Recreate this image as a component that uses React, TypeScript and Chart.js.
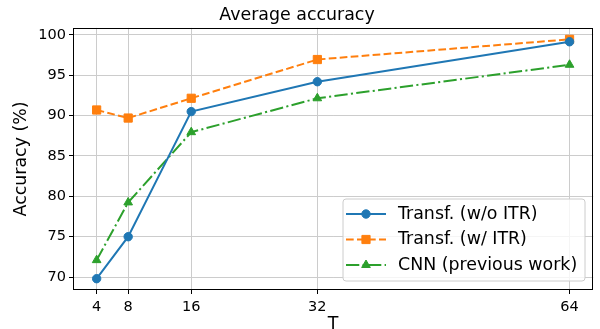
import React, { useEffect, useRef } from "react";
import { Chart, registerables } from "chart.js";

Chart.register(...registerables);

const xValues = [4, 8, 16, 32, 64];
const xTicks = [4, 8, 16, 32, 64];
const yTicks = [70, 75, 80, 85, 90, 95, 100];
const seriesNames = ["Transf. (w/o ITR)", "Transf. (w/ ITR)", "CNN (previous work)"];
const transfNoItr = [69.8, 75.0, 90.5, 94.2, 99.15];
const transfItr = [90.7, 89.7, 92.15, 96.95, 99.45];
const cnnPrev = [72.1, 79.25, 87.95, 92.15, 96.3];

const FONT = "'DejaVu Sans', sans-serif";
const BIG = 17.4;
const SMALL = 14.5;
const colors = ["#1f77b4", "#ff7f0e", "#2ca02c"];
const dashes = [[], [7.7, 3.3], [13.3, 3.3, 2.1, 3.3]];
const styles = ["circle", "rect", "triangle"];
const radii = [4.2, 5.8, 5];

const framePlugin = {
  id: "frame",
  afterDatasetsDraw(chart: any) {
    const { ctx, chartArea } = chart;
    ctx.save();
    ctx.strokeStyle = "#000";
    ctx.lineWidth = 1;
    ctx.strokeRect(
      Math.round(chartArea.left) + 0.5,
      Math.round(chartArea.top) + 0.5,
      Math.round(chartArea.right - chartArea.left) - 1,
      Math.round(chartArea.bottom - chartArea.top) - 1
    );
    ctx.restore();
  },
};

const legendPlugin = {
  id: "mplLegend",
  afterDraw(chart: any) {
    const { ctx } = chart;
    const x0 = 343, y0 = 199, x1 = 585, y1 = 281, r = 3;
    ctx.save();
    ctx.beginPath();
    ctx.moveTo(x0 + r, y0);
    ctx.lineTo(x1 - r, y0);
    ctx.arcTo(x1, y0, x1, y0 + r, r);
    ctx.lineTo(x1, y1 - r);
    ctx.arcTo(x1, y1, x1 - r, y1, r);
    ctx.lineTo(x0 + r, y1);
    ctx.arcTo(x0, y1, x0, y1 - r, r);
    ctx.lineTo(x0, y0 + r);
    ctx.arcTo(x0, y0, x0 + r, y0, r);
    ctx.closePath();
    ctx.fillStyle = "rgba(255,255,255,0.8)";
    ctx.fill();
    ctx.strokeStyle = "#cccccc";
    ctx.lineWidth = 1;
    ctx.stroke();
    const rows = [214, 239.5, 265];
    rows.forEach((y, i) => {
      ctx.save();
      ctx.strokeStyle = colors[i];
      ctx.lineWidth = 2;
      ctx.setLineDash(dashes[i]);
      ctx.beginPath();
      ctx.moveTo(346, y);
      ctx.lineTo(386, y);
      ctx.stroke();
      ctx.restore();
      ctx.save();
      ctx.fillStyle = colors[i];
      ctx.strokeStyle = colors[i];
      ctx.lineWidth = 1;
      const s = styles[i];
      const rad = radii[i];
      ctx.beginPath();
      if (s === "circle") {
        ctx.arc(366, y, rad, 0, Math.PI * 2);
      } else if (s === "rect") {
        const h = rad * Math.SQRT1_2;
        ctx.rect(366 - h, y - h, 2 * h, 2 * h);
      } else {
        for (let k = 0; k < 3; k++) {
          const a = -Math.PI / 2 + (k * 2 * Math.PI) / 3;
          const px = 366 + rad * Math.cos(a);
          const py = y + rad * Math.sin(a);
          if (k === 0) ctx.moveTo(px, py);
          else ctx.lineTo(px, py);
        }
        ctx.closePath();
      }
      ctx.fill();
      ctx.stroke();
      ctx.restore();
      ctx.fillStyle = "#000";
      ctx.font = `${BIG}px ${FONT}`;
      ctx.textBaseline = "middle";
      ctx.textAlign = "left";
      ctx.fillText(seriesNames[i], 398, y);
    });
    ctx.restore();
  },
};

export default function App() {
  const ref = useRef<HTMLCanvasElement>(null);
  useEffect(() => {
    if (!ref.current) return;
    const series = [transfNoItr, transfItr, cnnPrev];
    const chart = new Chart(ref.current, {
      type: "line",
      data: {
        datasets: series.map((vals, i) => ({
          label: seriesNames[i],
          data: xValues.map((x, j) => ({ x, y: vals[j] })),
          borderColor: colors[i],
          backgroundColor: colors[i],
          borderWidth: 2,
          borderDash: dashes[i],
          pointStyle: styles[i] as any,
          pointRadius: radii[i],
          pointBorderWidth: 1,
          pointBorderColor: colors[i],
          pointBackgroundColor: colors[i],
          tension: 0,
          clip: false as any,
        })),
      },
      options: {
        responsive: false,
        animation: false,
        devicePixelRatio: 1,
        layout: { padding: { left: 0, right: 6, top: 0, bottom: 0 } },
        plugins: {
          legend: { display: false },
          tooltip: { enabled: false },
          title: {
            display: true,
            text: "Average accuracy",
            color: "#000",
            font: { family: FONT, size: BIG, weight: "normal", lineHeight: 1.2 },
            padding: { top: 5, bottom: 2 },
          },
        },
        scales: {
          x: {
            type: "linear",
            min: 1,
            max: 67,
            afterBuildTicks: (scale: any) => {
              scale.ticks = xTicks.map((v) => ({ value: v }));
            },
            afterFit: (scale: any) => {
              scale.height = 39;
            },
            ticks: {
              color: "#000",
              font: { family: FONT, size: SMALL },
              padding: 5,
              maxRotation: 0,
              autoSkip: false,
              callback: (v: any) => String(v),
            },
            grid: {
              color: "#cccccc",
              lineWidth: 1,
              tickColor: "#000",
              tickLength: 4,
            },
            border: { display: false },
            title: {
              display: true,
              text: "T",
              color: "#000",
              font: { family: FONT, size: BIG, lineHeight: 1.2 },
              padding: { top: 0, bottom: -6 },
            },
          },
          y: {
            type: "linear",
            min: 68.4,
            max: 100.87,
            afterBuildTicks: (scale: any) => {
              scale.ticks = yTicks.map((v) => ({ value: v }));
            },
            afterFit: (scale: any) => {
              scale.width = 73;
            },
            ticks: {
              color: "#000",
              font: { family: FONT, size: SMALL },
              padding: 3,
              autoSkip: false,
              callback: (v: any) => String(v),
            },
            grid: {
              color: "#cccccc",
              lineWidth: 1,
              tickColor: "#000",
              tickLength: 4,
            },
            border: { display: false },
            title: {
              display: true,
              text: "Accuracy (%)",
              color: "#000",
              font: { family: FONT, size: BIG, lineHeight: 1.2 },
              padding: { top: 11, bottom: 0 },
            },
          },
        },
      },
      plugins: [framePlugin, legendPlugin],
    });
    return () => chart.destroy();
  }, []);
  return (
    <div style={{ position: "fixed", left: 0, top: 0, width: 600, height: 329, background: "#fff" }}>
      <canvas ref={ref} width={600} height={329} />
    </div>
  );
}
